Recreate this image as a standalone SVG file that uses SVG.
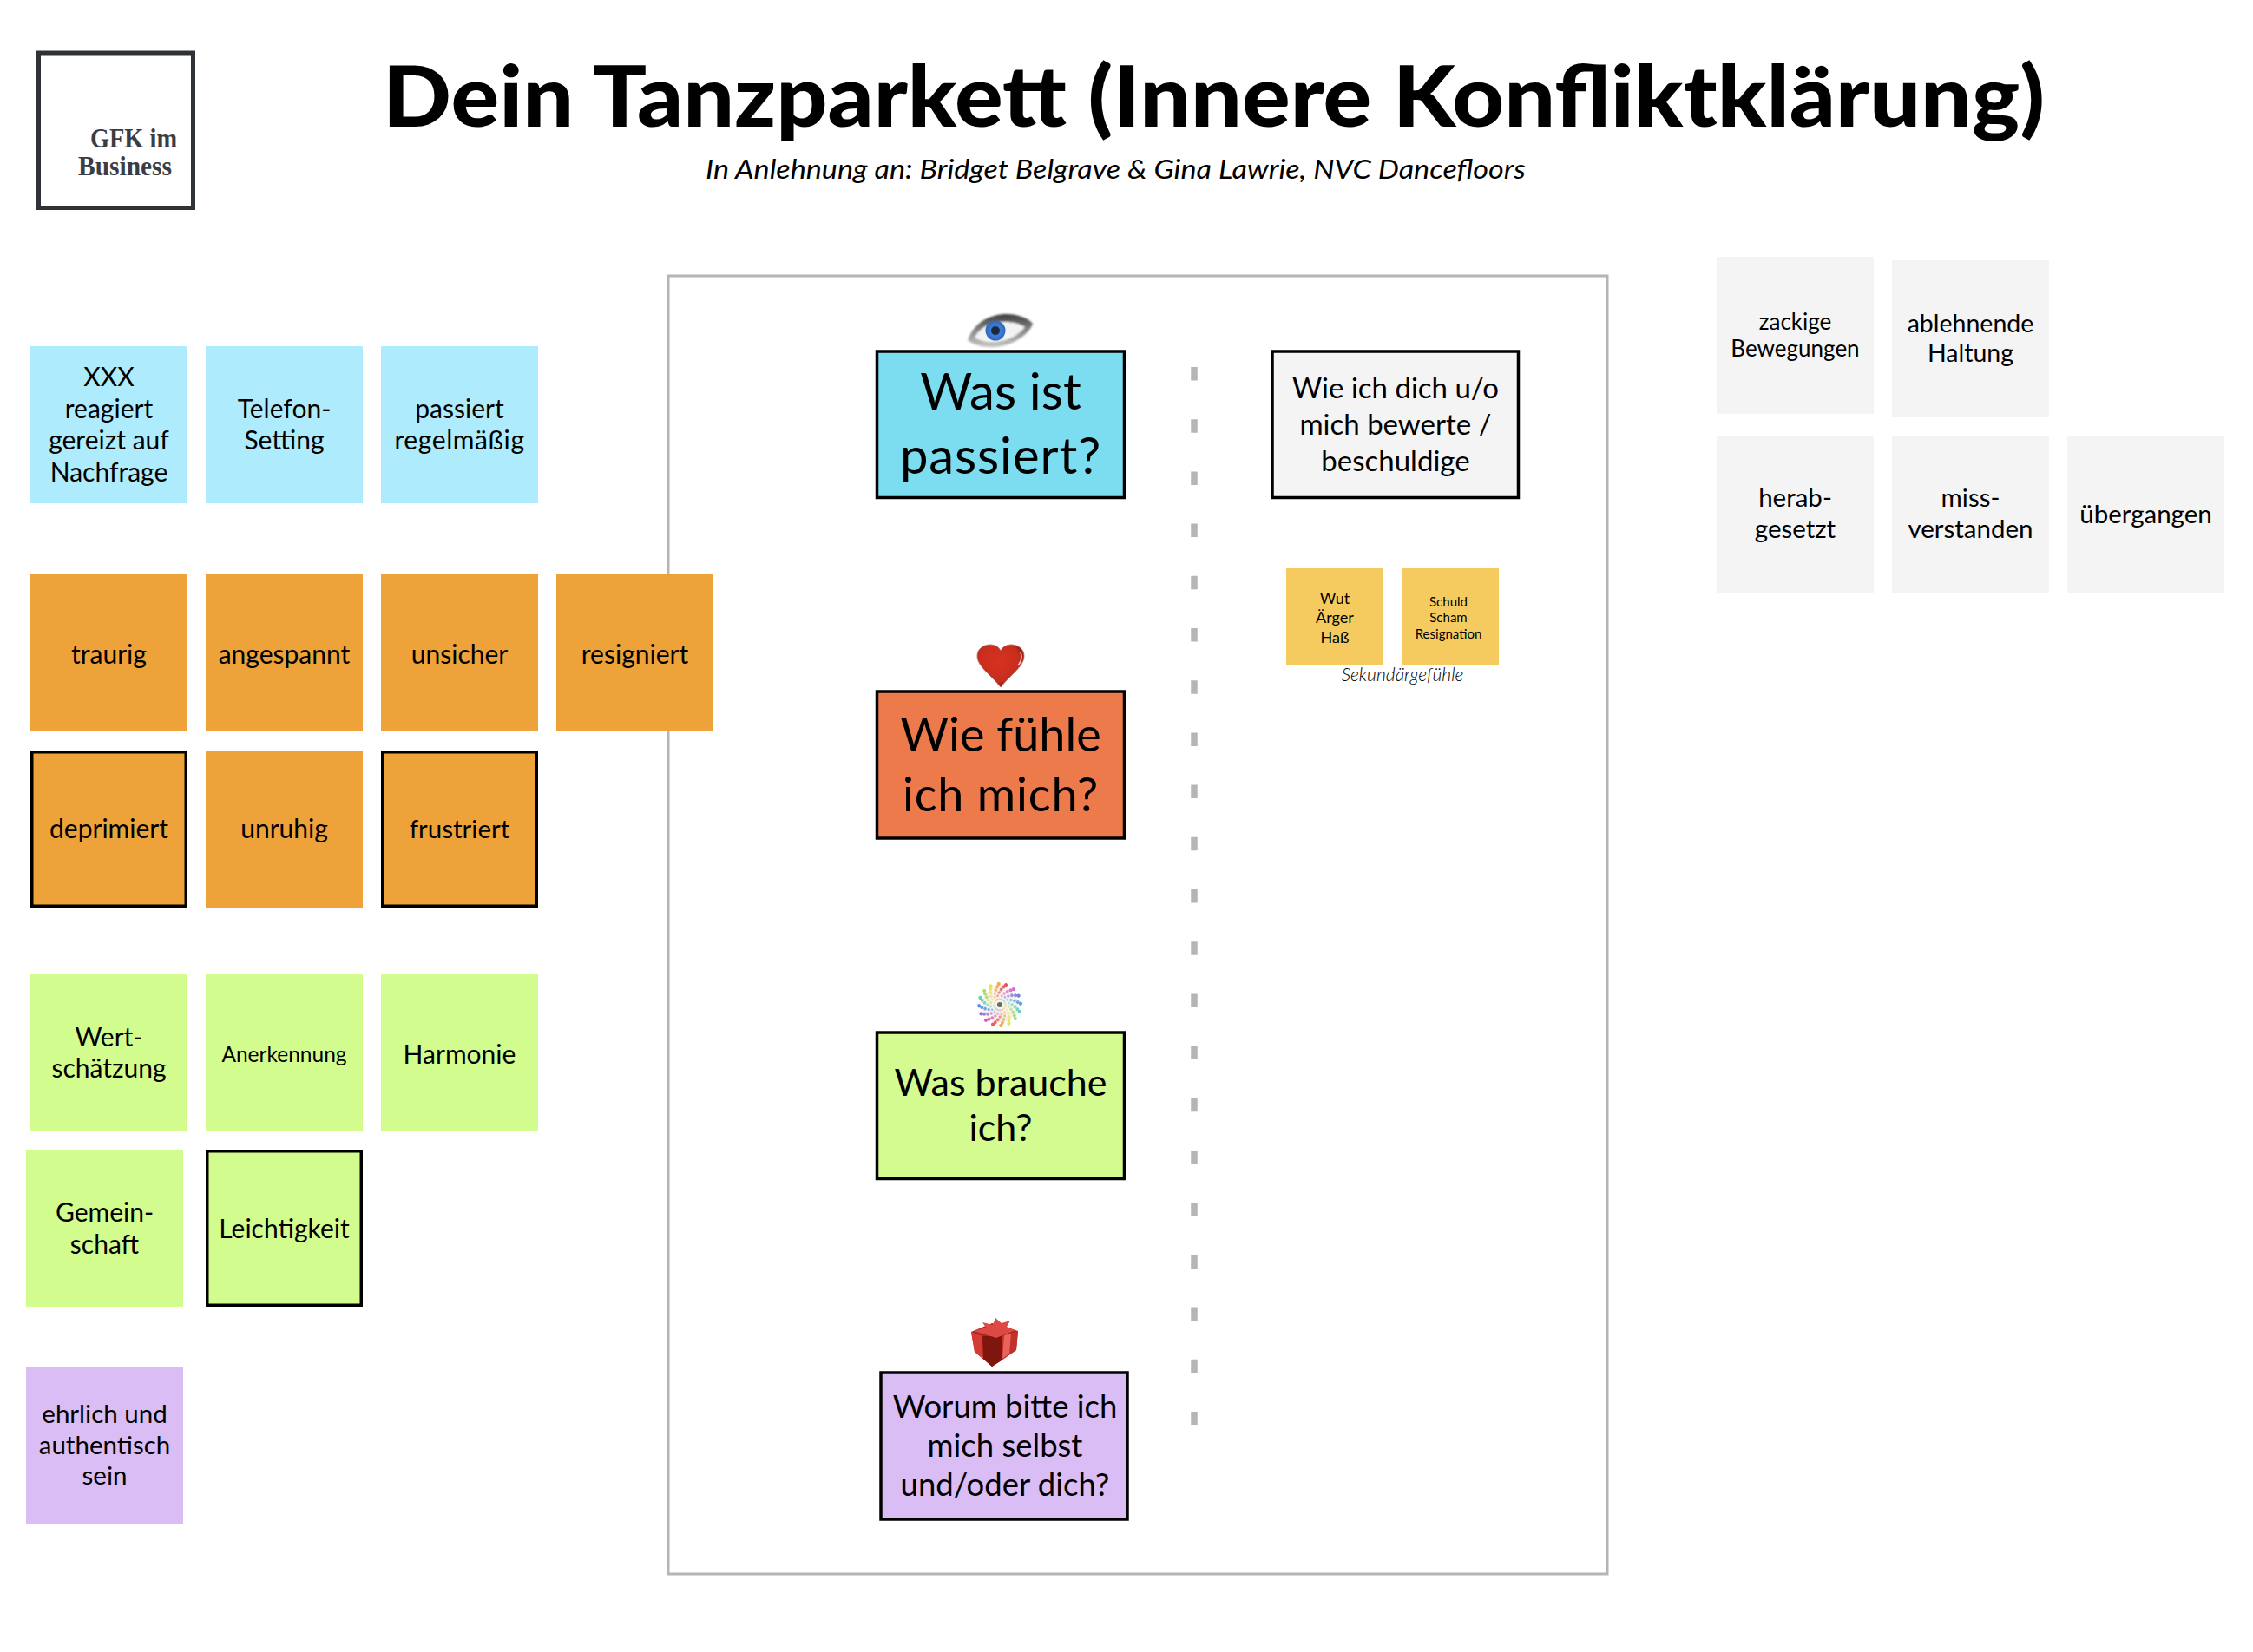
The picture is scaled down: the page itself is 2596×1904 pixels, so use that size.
<svg xmlns="http://www.w3.org/2000/svg" width="2596" height="1904" viewBox="0 0 2596 1904">
<style>
text{font-family:"Lato","Noto Sans","Liberation Sans",sans-serif;fill:#000;text-anchor:middle;transform:translateY(1px)}
.s{font-size:30px}
.g{font-size:29.500px}
.bx{stroke:#000;stroke-width:3.500}
.st{stroke:#000;stroke-width:3.500}
.blue{fill:#aeebfc}.or{fill:#eea33a}.gr{fill:#d3fc8e}.li{fill:#dabdf5}.gy{fill:#f4f4f4}.ye{fill:#f5cb5f}
.serif{font-family:"Liberation Serif",serif;font-size:32px;font-weight:bold;fill:#3a3d44}
</style>
<defs>
<radialGradient id="iris"><stop offset="0" stop-color="#1d2438"/><stop offset=".38" stop-color="#1d2b45"/><stop offset=".5" stop-color="#3f7fd8"/><stop offset="1" stop-color="#2f66bd"/></radialGradient>
<radialGradient id="heartg" cx=".45" cy=".4" r=".62"><stop offset="0" stop-color="#d8321f"/><stop offset=".75" stop-color="#c62d1d"/><stop offset="1" stop-color="#7c1510"/></radialGradient>
<linearGradient id="lid" x1="0" y1="0" x2="0" y2="1"><stop offset="0" stop-color="#3d3d3d"/><stop offset=".5" stop-color="#8a8a8a"/><stop offset="1" stop-color="#c8c8c8"/></linearGradient>
<filter id="soft" x="-10%" y="-10%" width="120%" height="120%"><feGaussianBlur stdDeviation="1"/></filter>
<filter id="soft2" x="-10%" y="-10%" width="120%" height="120%"><feGaussianBlur stdDeviation=".5"/></filter>
<g id="arm">
<circle cx="0" cy="-6.500" r="1.300" opacity=".35"/><circle cx="2.200" cy="-10.300" r="1.500" opacity=".5"/><circle cx="5.200" cy="-13" r="1.700" opacity=".65"/><circle cx="8.750" cy="-15.200" r="1.900" opacity=".8"/><circle cx="12.600" cy="-16.800" r="2" opacity=".9"/><circle cx="16" cy="-17.800" r="2.100"/>
</g>
</defs>
<rect width="2596" height="1904" fill="#fff"/>

<g id="logo">
<rect x="44.500" y="61" width="178" height="178.500" fill="#fff" stroke="#2f3237" stroke-width="5"/>
<text class="serif" x="154" y="169" textLength="100" lengthAdjust="spacingAndGlyphs">GFK im</text>
<text class="serif" x="144" y="201" textLength="108" lengthAdjust="spacingAndGlyphs">Business</text>
</g>
<g id="title">
<text x="1398.500" y="145" style="font-size:97px;font-weight:900" textLength="1915" lengthAdjust="spacingAndGlyphs">Dein Tanzparkett (Innere Konfliktklärung)</text>
<text x="1285.500" y="205" style="font-size:31px;font-style:italic" textLength="945" lengthAdjust="spacingAndGlyphs">In Anlehnung an: Bridget Belgrave &amp; Gina Lawrie, NVC Dancefloors</text>
</g>
<rect id="frame" x="770" y="318" width="1082" height="1496" fill="#fff" stroke="#b5b5b5" stroke-width="3"/>

<g id="connectors">
<line x1="1376" y1="423" x2="1376" y2="1642" stroke="#b5b5b5" stroke-width="7.500" stroke-dasharray="15.500 44.700"/>
</g>

<g id="icon-eye">
<g filter="url(#soft)">
<path d="M1115 392C1122 372 1140 362 1160 362C1172 362 1184 366 1190 373C1186 385 1168 398 1148 400C1134 401 1122 398 1115 392Z" fill="url(#lid)"/>
<path d="M1123 389C1129 377 1142 371 1158 371C1167 371 1175 373 1181 377C1174 386 1162 393 1148 394C1137 395 1129 393 1123 389Z" fill="#f2f2f2"/>
</g>
<circle cx="1147" cy="381" r="11.500" fill="url(#iris)" filter="url(#soft2)"/>
</g>
<g id="icon-heart">
<path d="M1153 792C1140 776 1126 768 1126 756C1126 748 1133 743 1141 743C1147 743 1151 746 1153 750C1155 746 1159 743 1165 743C1173 743 1180 748 1180 756C1180 768 1166 776 1153 792Z" fill="url(#heartg)" stroke="#a8706a" stroke-width=".8"/>
<path d="M1176 752C1178 757 1177 762 1173 767" fill="none" stroke="#f3d3cf" stroke-width="1.500"/>
</g>
<g id="icon-rosette" transform="translate(1152 1158)" filter="url(#soft2)">
<circle r="21" fill="#f3f0e4" opacity=".7"/>
<use href="#arm" fill="#ef4f5f" transform="rotate(-25)"/>
<use href="#arm" fill="#d66ac8" transform="rotate(0)"/>
<use href="#arm" fill="#7d7de0" transform="rotate(22.500)"/>
<use href="#arm" fill="#5aa6e8" transform="rotate(45)"/>
<use href="#arm" fill="#6cd0c0" transform="rotate(67.500)"/>
<use href="#arm" fill="#9cdc78" transform="rotate(90)"/>
<use href="#arm" fill="#e9e35a" transform="rotate(112.500)"/>
<use href="#arm" fill="#f5a94a" transform="rotate(135)"/>
<use href="#arm" fill="#ef5a5a" transform="rotate(157.500)"/>
<use href="#arm" fill="#e455b5" transform="rotate(180)"/>
<use href="#arm" fill="#9a70dc" transform="rotate(202.500)"/>
<use href="#arm" fill="#5a90e8" transform="rotate(225)"/>
<use href="#arm" fill="#6cd0b0" transform="rotate(247.500)"/>
<use href="#arm" fill="#a8dc60" transform="rotate(270)"/>
<use href="#arm" fill="#eadf58" transform="rotate(292.500)"/>
<use href="#arm" fill="#f6a84e" transform="rotate(315)"/>
<circle r="3" fill="#6a6a60"/>
</g>
<g id="icon-gift" filter="url(#soft2)">
<path d="M1119 1535L1143 1525L1173 1534L1171 1556L1143 1575L1123 1558Z" fill="#b3231f"/>
<path d="M1119 1535L1132 1540L1133 1566L1123 1558Z" fill="#d43a34"/>
<path d="M1132 1540L1155 1540L1154 1568L1143 1575L1133 1566Z" fill="#7f1210"/>
<path d="M1155 1540L1173 1534L1171 1556L1154 1568Z" fill="#c2302b"/>
<path d="M1157 1539L1165 1537L1163 1560L1155 1566Z" fill="#e8635c"/>
<path d="M1122 1534L1148 1542L1170 1533L1160 1529L1164 1522L1154 1525L1147 1519L1144 1527L1132 1524L1136 1530Z" fill="#dd4a44"/>
</g>

<g id="box-was-ist"><rect class="bx" x="1010.500" y="405" width="285" height="168.500" fill="#7cdcf0"/><text style="font-size:58px"><tspan x="1153" y="471">Was ist</tspan><tspan x="1153" y="545" letter-spacing=".9">passiert?</tspan></text></g>
<g id="box-wie-fuehle"><rect class="bx" x="1010.500" y="797" width="285" height="169" fill="#ed7a4b"/><text style="font-size:54px"><tspan x="1153" y="865">Wie fühle</tspan><tspan x="1153" y="934" letter-spacing=".8">ich mich?</tspan></text></g>
<g id="box-was-brauche"><rect class="bx" x="1010.500" y="1190" width="285" height="168.500" fill="#d3fb8f"/><text style="font-size:43px"><tspan x="1153" y="1262">Was brauche</tspan><tspan x="1153" y="1314">ich?</tspan></text></g>
<g id="box-worum"><rect class="bx" x="1015" y="1582" width="284" height="169" fill="#dabdf5"/><text style="font-size:36.500px"><tspan x="1158" y="1633">Worum bitte ich</tspan><tspan x="1158" y="1678">mich selbst</tspan><tspan x="1158" y="1723">und/oder dich?</tspan></text></g>
<g id="box-bewerte"><rect class="bx" x="1466" y="405" width="283.500" height="168.500" fill="#f4f4f4"/><text style="font-size:33px"><tspan x="1608" y="458">Wie ich dich u/o</tspan><tspan x="1608" y="500">mich bewerte /</tspan><tspan x="1608" y="542">beschuldige</tspan></text></g>

<g id="sek-1"><rect class="ye" x="1482" y="655" width="112" height="112"/><text style="font-size:18px"><tspan x="1538" y="695">Wut</tspan><tspan x="1538" y="717">Ärger</tspan><tspan x="1538" y="740">Haß</tspan></text></g>
<g id="sek-2"><rect class="ye" x="1615" y="655" width="112" height="112"/><text style="font-size:15px"><tspan x="1669" y="698">Schuld</tspan><tspan x="1669" y="716">Scham</tspan><tspan x="1669" y="735">Resignation</tspan></text></g>
<text id="sek-label" x="1616" y="784" style="font-size:21px;font-style:italic;font-weight:300">Sekundärgefühle</text>

<g id="n-xxx"><rect class="blue" x="35" y="399" width="181" height="181"/><text class="s"><tspan x="125.500" y="444">XXX</tspan><tspan x="125.500" y="480.500">reagiert</tspan><tspan x="125.500" y="517">gereizt auf</tspan><tspan x="125.500" y="553.500">Nachfrage</tspan></text></g>
<g id="n-telefon"><rect class="blue" x="237" y="399" width="181" height="181"/><text class="s"><tspan x="327.500" y="480.500">Telefon-</tspan><tspan x="327.500" y="517">Setting</tspan></text></g>
<g id="n-passiert"><rect class="blue" x="439" y="399" width="181" height="181"/><text class="s"><tspan x="529.500" y="480.500">passiert</tspan><tspan x="529.500" y="517" letter-spacing=".6">regelmäßig</tspan></text></g>

<g id="n-traurig"><rect class="or" x="35" y="662" width="181" height="181"/><text class="s" x="125.500" y="764">traurig</text></g>
<g id="n-angespannt"><rect class="or" x="237" y="662" width="181" height="181"/><text class="s" x="327.500" y="764">angespannt</text></g>
<g id="n-unsicher"><rect class="or" x="439" y="662" width="181" height="181"/><text class="s" x="529.500" y="764">unsicher</text></g>
<g id="n-resigniert"><rect class="or" x="641" y="662" width="181" height="181"/><text class="s" x="731.500" y="764">resigniert</text></g>
<g id="n-deprimiert"><rect class="or st" x="36.750" y="866.750" width="177.500" height="177.500"/><text class="s" x="125.500" y="965">deprimiert</text></g>
<g id="n-unruhig"><rect class="or" x="237" y="865" width="181" height="181"/><text class="s" x="327.500" y="965">unruhig</text></g>
<g id="n-frustriert"><rect class="or st" x="440.750" y="866.750" width="177.500" height="177.500"/><text style="font-size:29.500px" x="529.500" y="965">frustriert</text></g>

<g id="n-wert"><rect class="gr" x="35" y="1123" width="181" height="181"/><text style="font-size:30px"><tspan x="125.500" y="1205">Wert-</tspan><tspan x="125.500" y="1241">schätzung</tspan></text></g>
<g id="n-anerkennung"><rect class="gr" x="237" y="1123" width="181" height="181"/><text x="327.500" y="1223" style="font-size:24.500px">Anerkennung</text></g>
<g id="n-harmonie"><rect class="gr" x="439" y="1123" width="181" height="181"/><text class="s" x="529.500" y="1224.500">Harmonie</text></g>
<g id="n-gemein"><rect class="gr" x="30" y="1325" width="181" height="181"/><text class="s"><tspan x="120.500" y="1407">Gemein-</tspan><tspan x="120.500" y="1443.500">schaft</tspan></text></g>
<g id="n-leicht"><rect class="gr st" x="238.750" y="1326.750" width="177.500" height="177.500"/><text class="s" x="327.500" y="1426">Leichtigkeit</text></g>
<g id="n-ehrlich"><rect class="li" x="30" y="1575" width="181" height="181"/><text style="font-size:29.500px"><tspan x="120.500" y="1639">ehrlich und</tspan><tspan x="120.500" y="1674.500">authentisch</tspan><tspan x="120.500" y="1710">sein</tspan></text></g>

<g id="n-zackig"><rect class="gy" x="1978" y="296" width="181" height="181"/><text style="font-size:26px"><tspan x="2068.500" y="379">zackige</tspan><tspan x="2068.500" y="410">Bewegungen</tspan></text></g>
<g id="n-ablehn"><rect class="gy" x="2180" y="300" width="181" height="181"/><text style="font-size:28.500px"><tspan x="2270.500" y="382">ablehnende</tspan><tspan x="2270.500" y="416">Haltung</tspan></text></g>
<g id="n-herab"><rect class="gy" x="1978" y="502" width="181" height="181"/><text class="g"><tspan x="2068.500" y="583">herab-</tspan><tspan x="2068.500" y="619">gesetzt</tspan></text></g>
<g id="n-miss"><rect class="gy" x="2180" y="502" width="181" height="181"/><text class="g"><tspan x="2270.500" y="583">miss-</tspan><tspan x="2270.500" y="619">verstanden</tspan></text></g>
<g id="n-uebergangen"><rect class="gy" x="2382" y="502" width="181" height="181"/><text class="g" x="2472.500" y="602">übergangen</text></g>
</svg>
